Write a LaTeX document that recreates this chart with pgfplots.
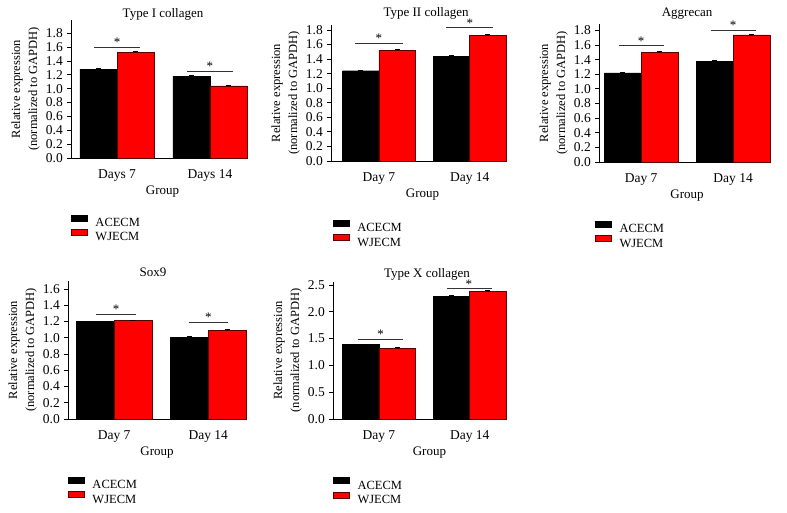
\documentclass[border=0pt]{standalone}
\usepackage{pgfplots}
\pgfplotsset{compat=1.18}
\usepackage{fontspec}
\setmainfont{Liberation Serif}
\definecolor{wjred}{RGB}{255,0,0}
\definecolor{wjedge}{RGB}{90,0,0}
\pgfplotsset{
  panel/.style={
    scale only axis, ybar, bar width=0.4, clip=false,
    axis x line*=bottom, axis y line*=left,
    axis line style={-, line width=0.8pt, black},
    tick align=outside, xtick={1,2},
    xtick style={draw=none},
    ytick style={line width=0.8pt, black},
    major tick length=4pt,
    ymin=0,
    tick label style={font=\fontsize{13.5}{15}\selectfont},
    yticklabel shift=4pt,
    yticklabel style={inner sep=0pt},
    xticklabel style={anchor=base, inner sep=0pt, yshift=-17pt},
    /pgf/number format/assume math mode=true,
    y tick label style={/pgf/number format/.cd, fixed, fixed zerofill, precision=1},
    every axis title shift=0pt,
    title style={font=\fontsize{13}{14}\selectfont, anchor=base, inner sep=0pt},
    xlabel style={font=\fontsize{13}{14}\selectfont, anchor=base, inner sep=0pt},
    ylabel style={font=\fontsize{12.5}{17}\selectfont, align=center, inner sep=0pt,
      at={([xshift=-31pt]axis description cs:0,0.5)}, anchor=south},
    ylabel={Relative expression\\(normalized to GAPDH)},
    xlabel={Group},
    legend image code/.code={\draw[##1, line width=0.5pt] (0pt,1.2pt) rectangle (16pt,7.2pt);},
    legend cell align=left,
    legend style={draw=none, fill=none, inner sep=0pt, outer sep=0pt,
      font=\fontsize{12.5}{14}\selectfont,
      nodes={inner sep=0pt, text height=9pt, text depth=0pt},
      row sep=2.5pt,
      /tikz/every odd column/.append style={column sep=8pt},
      anchor=north west},
  },
  acecm/.style={fill=black, draw=black, bar shift=-0.2,
    error bars/.cd, y dir=plus, y explicit,
    error bar style={line width=0.8pt, black},
    error mark options={rotate=90, mark size=2.5pt, line width=0.8pt, black}},
  wjecm/.style={fill=wjred, draw=wjedge, line width=0.6pt, bar shift=0.2,
    error bars/.cd, y dir=plus, y explicit,
    error bar style={line width=0.8pt, black},
    error mark options={rotate=90, mark size=2.5pt, line width=0.8pt, black}},
}
\newcommand{\sig}[4]{%
  \draw[line width=0.8pt, black!80] (axis cs:#1,#3) -- (axis cs:#2,#3);
  \node[anchor=base, inner sep=0pt, font=\fontsize{13}{14}\selectfont] at ([yshift=0.5pt]axis cs:#4,#3) {*};}
\begin{document}
\begin{tikzpicture}
\path[use as bounding box] (0,0) rectangle (787pt,513pt);

% Panel 1: Type I collagen
\begin{axis}[panel, at={(71pt,355pt)}, anchor=south west,
  width=176pt, height=138pt, xmin=0.505, xmax=2.398, ymax=1.99,
  ytick={0,0.2,...,1.8}, xticklabels={Days 7, Days 14},
  title={Type I collagen}, title style={at={(rel axis cs:0.523,1.018)}},
  xlabel style={at={([yshift=-37pt]rel axis cs:0.52,0)}},
  legend style={at={(axis description cs:0,-0.41)}}]
\addplot[acecm] coordinates {(1,1.28) +- (0,0.01) (2,1.18) +- (0,0.01)};
\addplot[wjecm] coordinates {(1,1.52) +- (0,0.01) (2,1.04) +- (0,0.01)};
\legend{ACECM, WJECM}
\sig{0.755}{1.245}{1.60}{1.0}
\sig{1.755}{2.245}{1.25}{2.0}
\end{axis}

% Panel 2: Type II collagen
\begin{axis}[panel, at={(331pt,352pt)}, anchor=south west,
  width=176pt, height=136pt, xmin=0.473, xmax=2.41, ymax=1.868,
  ytick={0,0.2,...,1.8}, xticklabels={Day 7, Day 14},
  title={Type II collagen}, title style={at={(rel axis cs:0.54,1.059)}},
  xlabel style={at={([yshift=-37pt]rel axis cs:0.52,0)}},
  legend style={at={(axis description cs:0.01,-0.433)}}]
\addplot[acecm] coordinates {(1,1.24) +- (0,0.005) (2,1.44) +- (0,0.005)};
\addplot[wjecm] coordinates {(1,1.52) +- (0,0.01) (2,1.73) +- (0,0.01)};
\legend{ACECM, WJECM}
\sig{0.74}{1.26}{1.62}{1.0}
\sig{1.74}{2.26}{1.83}{2.0}
\end{axis}

% Panel 3: Aggrecan
\begin{axis}[panel, at={(599pt,351pt)}, anchor=south west,
  width=171pt, height=138pt, xmin=0.543, xmax=2.40, ymax=1.888,
  ytick={0,0.2,...,1.8}, xticklabels={Day 7, Day 14},
  title={Aggrecan}, title style={at={(rel axis cs:0.515,1.051)}},
  xlabel style={at={([yshift=-37pt]rel axis cs:0.515,0)}},
  legend style={at={(axis description cs:-0.023,-0.425)}}]
\addplot[acecm] coordinates {(1,1.22) +- (0,0.01) (2,1.38) +- (0,0.005)};
\addplot[wjecm] coordinates {(1,1.50) +- (0,0.01) (2,1.74) +- (0,0.01)};
\legend{ACECM, WJECM}
\sig{0.755}{1.245}{1.59}{1.0}
\sig{1.755}{2.245}{1.80}{2.0}
\end{axis}

% Panel 4: Sox9
\begin{axis}[panel, at={(68pt,94pt)}, anchor=south west,
  width=178pt, height=138pt, xmin=0.51, xmax=2.40, ymax=1.70,
  ytick={0,0.2,...,1.6}, xticklabels={Day 7, Day 14},
  title={Sox9}, title style={at={(rel axis cs:0.478,1.029)}},
  xlabel style={at={([yshift=-37pt]rel axis cs:0.5,0)}},
  legend style={at={(axis description cs:0,-0.418)}}]
\addplot[acecm] coordinates {(1,1.20) +- (0,0.005) (2,1.01) +- (0,0.005)};
\addplot[wjecm] coordinates {(1,1.21) +- (0,0.01) (2,1.09) +- (0,0.01)};
\legend{ACECM, WJECM}
\sig{0.81}{1.23}{1.29}{1.02}
\sig{1.79}{2.21}{1.19}{2.0}
\end{axis}

% Panel 5: Type X collagen
\begin{axis}[panel, at={(333pt,94pt)}, anchor=south west,
  width=174pt, height=137pt, xmin=0.495, xmax=2.41, ymax=2.556,
  ytick={0,0.5,...,2.5}, xticklabels={Day 7, Day 14},
  title={Type X collagen}, title style={at={(rel axis cs:0.54,1.036)}},
  xlabel style={at={([yshift=-37pt]rel axis cs:0.554,0)}},
  legend style={at={(axis description cs:0,-0.424)}}]
\addplot[acecm] coordinates {(1,1.39) +- (0,0.01) (2,2.29) +- (0,0.01)};
\addplot[wjecm] coordinates {(1,1.32) +- (0,0.01) (2,2.38) +- (0,0.01)};
\legend{ACECM, WJECM}
\sig{0.77}{1.27}{1.49}{1.02}
\sig{1.75}{2.24}{2.43}{1.99}
\end{axis}
\end{tikzpicture}
\end{document}
